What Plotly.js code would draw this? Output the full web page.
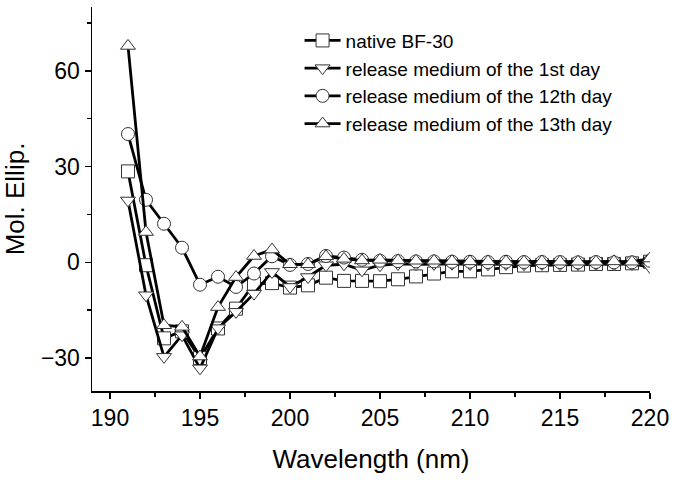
<!DOCTYPE html>
<html>
<head>
<meta charset="utf-8">
<script src="https://cdn.plot.ly/plotly-3.0.1.min.js"></script>
<style>html,body{margin:0;padding:0;background:#fff;}#chart{width:677px;height:482px;}</style>
</head>
<body>
<div id="chart"></div>
<script>
var wavelength = [191,192,193,194,195,196,197,198,199,200,201,202,203,204,205,206,207,208,209,210,211,212,213,214,215,216,217,218,219,220];
var nativeBF30 = [28.5,-0.9,-23.8,-21.6,-30,-20.7,-14.5,-6.7,-6.5,-7.9,-7.2,-4.8,-5.8,-5.8,-5.9,-5.3,-4.4,-3.5,-2.8,-2.8,-2.2,-1.5,-1.0,-0.9,-0.8,-0.7,-0.5,-0.5,-0.3,0.2];
var day1 = [19.4,-10.3,-29.6,-22.8,-33.2,-20.6,-15.5,-9.8,-3.0,-7.7,-4.6,-0.9,-0.6,-2.5,-0.9,-0.5,-0.6,-0.5,-0.4,-0.5,-0.6,-0.5,-0.6,-0.5,-0.6,-0.5,-0.5,-0.6,-0.5,-1.5];
var day12 = [40.2,19.6,12.1,4.6,-7.0,-4.5,-7.7,-3.5,1.9,-0.8,-0.5,2.0,1.5,0.8,0.5,0.4,0.3,0.3,0.2,0.2,0.1,0.2,0.1,0.1,0.1,0,0.1,0,0,0.5];
var day13 = [67.8,9.5,-19.7,-20.2,-29.5,-14,-4.6,2.0,4.0,-0.6,-0.6,1.9,1.1,0.6,0.8,0.6,0.5,0.5,0.4,0.3,0.3,0.3,0.2,0.3,0.2,0.2,0.2,0.3,0.2,1.2];
var seriesNames = ["native BF-30","release medium of the 1st day","release medium of the 12th day","release medium of the 13th day"];
var seriesSymbols = ["square","triangle-down","circle","triangle-up"];
var seriesValues = [nativeBF30, day1, day12, day13];

var font = "Arial, 'Liberation Sans', sans-serif";
var traces = seriesValues.map(function(vals, i){
  return {
    x: wavelength, y: vals, name: seriesNames[i], type: 'scatter', mode: 'lines+markers',
    line: {color: '#000', width: 2.8},
    marker: {symbol: seriesSymbols[i], size: 13, color: '#fff', line: {color: '#333', width: 1}}
  };
});

var layout = {
  width: 677, height: 482,
  margin: {l: 92, r: 27, t: 7, b: 91},
  paper_bgcolor: '#fff', plot_bgcolor: '#fff',
  showlegend: true,
  legend: {x: 0.372, y: 0.962, xanchor: 'left', yanchor: 'top', bgcolor: 'rgba(0,0,0,0)',
           font: {family: font, size: 19, color: '#000'}, tracegroupgap: 0, itemwidth: 36},
  xaxis: {
    range: [189, 220], showline: true, linecolor: '#000', linewidth: 1.5,
    showgrid: false, zeroline: false, mirror: false,
    ticks: 'outside', ticklen: 6, tickwidth: 1.5, tickcolor: '#000',
    tickvals: [190,195,200,205,210,215,220],
    tickfont: {family: font, size: 23, color: '#000'},
    minor: {tickvals: [192.5,197.5,202.5,207.5,212.5,217.5], ticks: 'outside', ticklen: 4, tickwidth: 1.5, tickcolor: '#000'},
    title: {text: 'Wavelength (nm)', font: {family: font, size: 26, color: '#000'}, standoff: 19}
  },
  yaxis: {
    range: [-40.3, 80], showline: true, linecolor: '#000', linewidth: 1.5,
    showgrid: false, zeroline: false, mirror: false,
    ticks: 'outside', ticklen: 6, tickwidth: 1.5, tickcolor: '#000',
    tickvals: [-30, 0, 30, 60],
    tickfont: {family: font, size: 23, color: '#000'},
    minor: {tickvals: [-15, 15, 45, 75], ticks: 'outside', ticklen: 4, tickwidth: 1.5, tickcolor: '#000'},
    title: {text: 'Mol. Ellip.', font: {family: font, size: 26, color: '#000'}, standoff: 12}
  }
};
Plotly.newPlot('chart', traces, layout, {staticPlot: true, displayModeBar: false});
</script>
</body>
</html>
